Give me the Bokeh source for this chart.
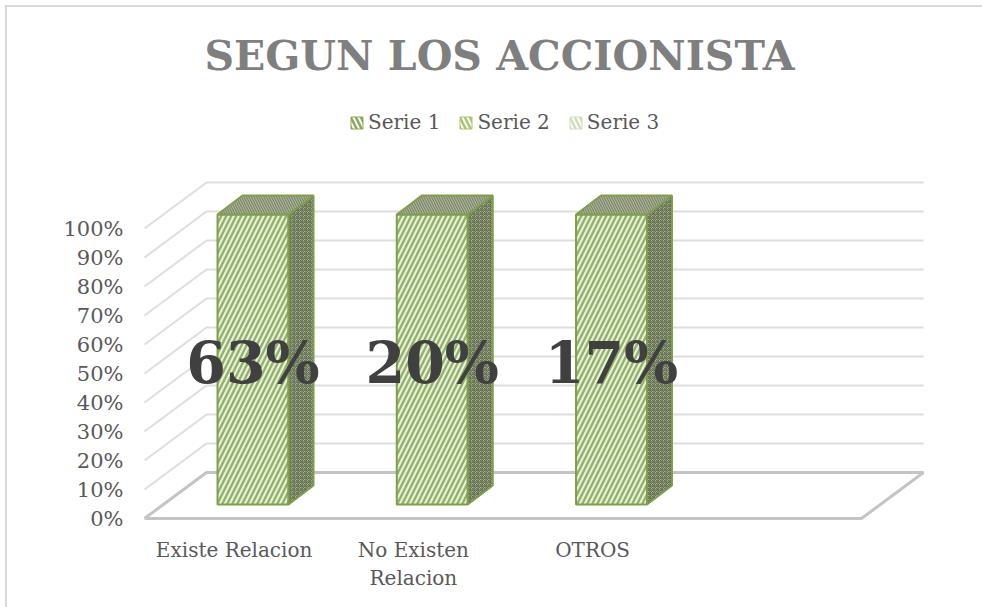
from bokeh.plotting import figure
from bokeh.models import Range1d, LinearAxis, FixedTicker, Legend, LegendItem, Label
from bokeh.core.properties import value
from bokeh.embed import file_html
from bokeh.resources import INLINE

categories = ["Existe Relacion", "No Existen\nRelacion", "OTROS"]
bar_totals = [100, 100, 100]
labels = ["63%", "20%", "17%"]
y_ticks = [0, 10, 20, 30, 40, 50, 60, 70, 80, 90, 100]
series = ["Serie 1", "Serie 2", "Serie 3"]
series_fill = ["#8aa85a", "#a5c76b", "#cfdfba"]
title = "SEGUN LOS ACCIONISTA"

SERIF = "DejaVu Serif"
W, H = 977, 602
L, R, T, B = 135, 55, 0, 85
UX, UY = 179.25, 2.9          # px per category / per percent
x_lo = -0.5 - 2 / UX
x_hi = x_lo + (W - L - R) / UX
y_lo = -6 / UY
y_hi = y_lo + (H - T - B) / UY

WALL_DX, WALL_DY = 62 / UX, 46 / UY
BAR_DX, BAR_DY = 25 / UX, 19 / UY
BAR_W = 71 / UX
BAR_X0, BAR_Y0 = (218 - 234.6) / UX, 4.83

p = figure(width=W, height=H, output_backend="svg", toolbar_location=None,
           x_range=Range1d(x_lo, x_hi), y_range=Range1d(y_lo, y_hi),
           x_axis_type=None, y_axis_type=None,
           min_border_left=L, min_border_right=R, min_border_top=T, min_border_bottom=B,
           outline_line_color=None, margin=(5, 0, 0, 5),
           styles={"border-left": "2px solid #d9d9d9", "border-top": "2px solid #d9d9d9"})
p.xgrid.visible = False
p.ygrid.visible = False
p.title = None

# axes
yax = LinearAxis(ticker=FixedTicker(ticks=y_ticks),
                 major_label_overrides={v: f"{v}%" for v in y_ticks},
                 axis_line_color=None, major_tick_line_color=None, minor_tick_line_color=None,
                 major_label_standoff=13, major_label_text_font=SERIF,
                 major_label_text_font_size="21px", major_label_text_color="#595959")
p.add_layout(yax, "left")
xax = LinearAxis(ticker=FixedTicker(ticks=list(range(len(categories)))),
                 major_label_overrides={i: c for i, c in enumerate(categories)},
                 axis_line_color=None, major_tick_line_color=None, minor_tick_line_color=None,
                 major_label_standoff=7, major_label_text_font=SERIF,
                 major_label_text_font_size="20px", major_label_text_color="#595959")
p.add_layout(xax, "below")

# walls and floor
x_l = -0.5
x_r = x_l + 717 / UX
gx = [[x_l, x_l + WALL_DX, x_r + WALL_DX] for v in y_ticks[1:]]
gy = [[v, v + WALL_DY, v + WALL_DY] for v in y_ticks[1:]]
p.multi_line(gx, gy, line_color="#dedede", line_width=2)
p.line([x_l, x_r, x_r + WALL_DX, x_l + WALL_DX, x_l],
       [0, 0, WALL_DY, WALL_DY, 0], line_color="#c4c4c4", line_width=3)

# zero-height lower series (legend entries)
renderers = []
for s, c in zip(series, series_fill):
    r = p.vbar(x=[i + BAR_X0 + BAR_W / 2 for i in range(len(categories))],
               bottom=BAR_Y0, top=BAR_Y0, width=BAR_W,
               fill_color=c, line_color=c, line_width=1,
               hatch_pattern="left_diagonal_line", hatch_color="#ffffff",
               hatch_scale=10, hatch_weight=2)
    renderers.append(r)

# 3D faces
xf, yf, xs, ys, xt, yt = [], [], [], [], [], []
for i, h in enumerate(bar_totals):
    x0 = i + BAR_X0
    x1 = x0 + BAR_W
    y0 = BAR_Y0
    y1 = y0 + h
    xf.append([x0, x1, x1, x0]); yf.append([y0, y0, y1, y1])
    xs.append([x1, x1 + BAR_DX, x1 + BAR_DX, x1]); ys.append([y0, y0 + BAR_DY, y1 + BAR_DY, y1])
    xt.append([x0, x1, x1 + BAR_DX, x0 + BAR_DX]); yt.append([y1, y1, y1 + BAR_DY, y1 + BAR_DY])

OUT = "#7f9f4c"
p.patches(xf, yf, fill_color="#e9f1dc", line_color=OUT, line_width=2,
          hatch_pattern="right_diagonal_line", hatch_color="#94b16a", hatch_scale=10, hatch_weight=2.4)
p.patches(xs, ys, fill_color="#a3ad90", line_color=OUT, line_width=2,
          hatch_pattern="criss_cross", hatch_color="#626f4e", hatch_scale=4, hatch_weight=1)
p.patches(xt, yt, fill_color="#b0b69f", line_color=OUT, line_width=2,
          hatch_pattern="left_diagonal_line", hatch_color="#7a8466", hatch_scale=5, hatch_weight=1.2)

# data labels
p.text(x=[i + BAR_X0 + BAR_W / 2 for i in range(len(labels))],
       y=[BAR_Y0 + h / 2 - 1 for h in bar_totals], text=labels,
       text_font=value(SERIF), text_font_style="bold", text_font_size="57px",
       text_color="#404040", text_align="center", text_baseline="middle")

# legend
leg = Legend(items=[LegendItem(label=s, renderers=[r]) for s, r in zip(series, renderers)],
             orientation="horizontal", location=(207, 390),
             background_fill_alpha=0, border_line_color=None, padding=0, margin=0,
             glyph_width=15, glyph_height=15, label_standoff=4, spacing=18,
             label_text_font=SERIF, label_text_font_size="20px", label_text_color="#595959")
p.add_layout(leg, "center")

# title
p.add_layout(Label(x=357, y=469, x_units="screen", y_units="screen", text=title,
                   text_font=SERIF, text_font_style="bold", text_font_size="41px",
                   text_color="#7f7f7f", text_align="center", text_baseline="middle"))

open("out.html", "w").write(file_html(p, INLINE))
